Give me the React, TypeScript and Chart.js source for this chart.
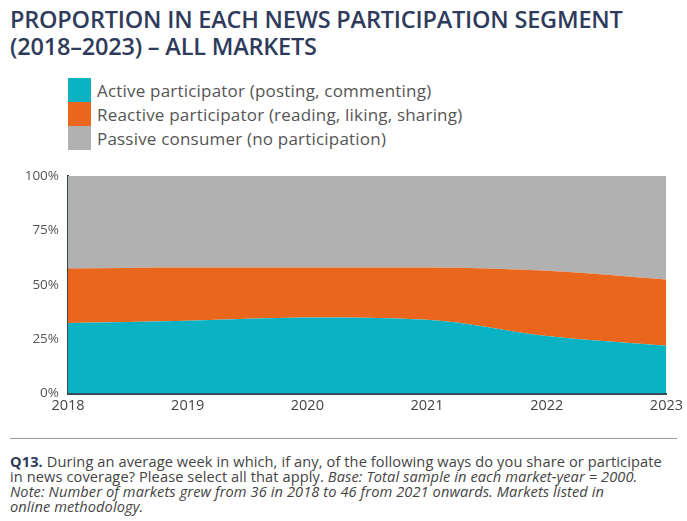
import React, { useEffect, useRef } from "react";
import { Chart, registerables } from "chart.js";

Chart.register(...registerables);

const years = ["2018", "2019", "2020", "2021", "2022", "2023"];
const activeValues = [32.5, 33.5, 35, 34, 26.5, 22];
const reactiveValues = [25, 24.5, 23, 24, 30, 30.5];
const passiveValues = [42.5, 42, 42, 42, 43.5, 47.5];
const yTicks = [0, 25, 50, 75, 100];

const seriesNames = [
  "Active participator (posting, commenting)",
  "Reactive participator (reading, liking, sharing)",
  "Passive consumer (no participation)",
];
const seriesColors = ["#0ab2c3", "#ea661c", "#b1b1b1"];

export default function App() {
  const ref = useRef<HTMLCanvasElement | null>(null);

  useEffect(() => {
    if (!ref.current) return;
    const values = [activeValues, reactiveValues, passiveValues];
    const chart = new Chart(ref.current, {
      type: "line",
      data: {
        labels: years,
        datasets: values.map((v, i) => ({
          label: seriesNames[i],
          data: v,
          backgroundColor: seriesColors[i],
          borderColor: seriesColors[i],
          borderWidth: 0,
          pointRadius: 0,
          fill: i === 0 ? "origin" : "-1",
          cubicInterpolationMode: "monotone" as const,
        })),
      },
      options: {
        animation: false,
        responsive: false,
        maintainAspectRatio: false,
        layout: { padding: { top: 15, right: 20, left: 0, bottom: 0 } },
        plugins: { legend: { display: false }, tooltip: { enabled: false } },
        scales: {
          x: {
            offset: false,
            grid: { display: false, drawTicks: false },
            border: { display: true, color: "#37474d", width: 2 },
            ticks: {
              color: "#444",
              font: { family: "Open Sans", size: 14.5 },
              padding: 4,
              maxRotation: 0,
            },
          },
          y: {
            stacked: true,
            min: 0,
            max: 100,
            afterFit: (s: any) => {
              s.width = 68;
            },
            afterBuildTicks: (s: any) => {
              s.ticks = yTicks.map((v) => ({ value: v }));
            },
            grid: { display: false, drawTicks: false },
            border: { display: true, color: "#37474d", width: 2 },
            ticks: {
              color: "#555",
              font: { family: "Open Sans", size: 13.5 },
              padding: 9,
              callback: (v: any) => v + "%",
            },
          },
        },
      },
    });
    return () => chart.destroy();
  }, []);

  return (
    <div
      style={{
        position: "fixed",
        left: 0,
        top: 0,
        width: 687,
        height: 521,
        background: "#ffffff",
        fontFamily: "Open Sans, sans-serif",
        overflow: "hidden",
      }}
    >
      <div
        style={{
          position: "absolute",
          left: 10,
          top: 6,
          fontSize: 23.5,
          fontWeight: 600,
          lineHeight: "27px",
          color: "#2f3b5c",
          letterSpacing: -0.2,
          whiteSpace: "nowrap",
        }}
      >
        PROPORTION IN EACH NEWS PARTICIPATION SEGMENT
        <br />
        (2018–2023) – ALL MARKETS
      </div>
      <div style={{ position: "absolute", left: 68, top: 78 }}>
        {seriesNames.map((n, i) => (
          <div
            key={n}
            style={{ display: "flex", alignItems: "center", height: 24 }}
          >
            <div
              style={{
                width: 23,
                height: 24,
                background: seriesColors[i],
                marginRight: 6,
              }}
            />
            <span style={{ fontSize: 17, color: "#555", letterSpacing: 0.2, whiteSpace: "nowrap" }}>{n}</span>
          </div>
        ))}
      </div>
      <canvas
        ref={ref}
        width={687}
        height={260}
        style={{ position: "absolute", left: 0, top: 159, width: 687, height: 260 }}
      />
      <div
        style={{
          position: "absolute",
          left: 10,
          top: 438,
          width: 667,
          height: 1,
          background: "#9a9a9a",
        }}
      />
      <div
        style={{
          position: "absolute",
          left: 10,
          top: 454,
          fontSize: 14.6,
          lineHeight: "15px",
          color: "#444",
          letterSpacing: 0.1,
          whiteSpace: "nowrap",
        }}
      >
        <b style={{ color: "#2f3b5c" }}>Q13.</b> During an average week in which, if any, of the following ways do you share or participate
        <br />
        in news coverage? Please select all that apply. <i>Base: Total sample in each market-year = 2000.</i>
        <br />
        <i>Note: Number of markets grew from 36 in 2018 to 46 from 2021 onwards. Markets listed in</i>
        <br />
        <i>online methodology.</i>
      </div>
    </div>
  );
}
